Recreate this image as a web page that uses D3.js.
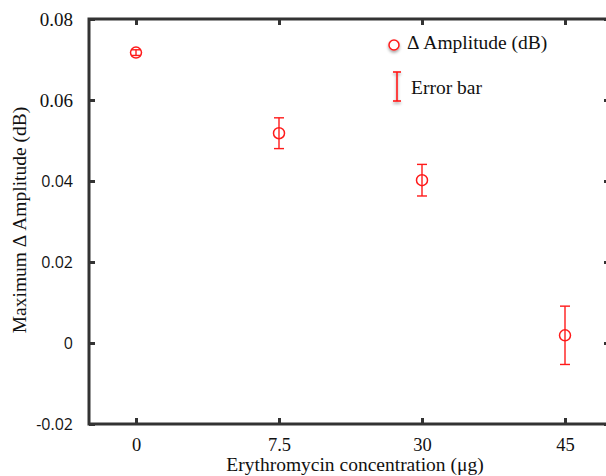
<!DOCTYPE html>
<html lang="en">
<head>
<meta charset="utf-8">
<title>Erythromycin amplitude chart</title>
<script src="https://d3js.org/d3.v7.min.js"></script>
<style>
  body { margin: 0; background: #fff; }
  svg { display: block; }
</style>
</head>
<body>
<div id="chart"></div>
<script type="text/javascript">

// data
var concentrations = ["0", "7.5", "30", "45"];
var amplitudes = [0.0717, 0.0518, 0.0402, 0.0019];
var errors = [0.0007, 0.0038, 0.0039, 0.0072];
var yTicks = [-0.02, 0, 0.02, 0.04, 0.06, 0.08];
var yTickLabels = ["-0.02", "0", "0.02", "0.04", "0.06", "0.08"];

var w = 606;
var h = 476;
var frame = {left: 89, right: 610, top: 19, bottom: 424};
var red = "#ff1a1a";
var serif = "'Liberation Serif', 'Times New Roman', serif";
var sans = "'Open Sans', 'Noto Sans', sans-serif";

var svg = d3.select("#chart")
  .append("svg")
  .attr("width", w)
  .attr("height", h);

var defs = svg.append("defs");
var shadow = defs.append("filter").attr("id", "shadow")
  .attr("x", "-100%").attr("y", "-100%").attr("width", "300%").attr("height", "300%");
shadow.append("feDropShadow")
  .attr("dx", 0).attr("dy", 2).attr("stdDeviation", 1.5)
  .attr("flood-color", "#000").attr("flood-opacity", 0.35);

var xScale = d3.scalePoint()
  .domain(concentrations)
  .range([136, 565]);

var yScale = d3.scaleLinear()
  .domain([-0.02, 0.08])
  .range([frame.bottom, frame.top]);

// frame
svg.append("rect")
  .attr("x", frame.left)
  .attr("y", frame.top)
  .attr("width", frame.right - frame.left)
  .attr("height", frame.bottom - frame.top)
  .attr("fill", "none")
  .attr("stroke", "#333")
  .attr("stroke-width", 3);

// bottom axis
var xAxis = svg.append("g")
  .attr("transform", "translate(0," + frame.bottom + ")")
  .call(d3.axisBottom(xScale).tickSizeInner(-6).tickSizeOuter(0).tickPadding(14));
xAxis.select(".domain").remove();
xAxis.selectAll(".tick line").attr("stroke", "#333").attr("stroke-width", 3);
xAxis.selectAll(".tick text")
  .attr("font-family", serif).attr("font-size", 18.5).attr("fill", "#111");

// top ticks
var xTop = svg.append("g")
  .attr("transform", "translate(0," + frame.top + ")")
  .call(d3.axisTop(xScale).tickSizeInner(-6).tickSizeOuter(0).tickFormat(""));
xTop.select(".domain").remove();
xTop.selectAll(".tick line").attr("stroke", "#333").attr("stroke-width", 3);

// left axis
var yAxis = svg.append("g")
  .attr("transform", "translate(" + frame.left + ",0)")
  .call(d3.axisLeft(yScale).tickValues(yTicks)
    .tickFormat(function(d, i) { return yTickLabels[i]; })
    .tickSizeInner(-6).tickSizeOuter(0).tickPadding(16));
yAxis.select(".domain").remove();
yAxis.selectAll(".tick line").attr("stroke", "#333").attr("stroke-width", 3);
yAxis.selectAll(".tick text")
  .attr("fill", "#111")
  .attr("font-family", function(d) { return d >= 0.06 ? serif : sans; })
  .attr("font-size", function(d) { return d >= 0.06 ? 19 : 16; });

// right ticks
var yRight = svg.append("g")
  .attr("transform", "translate(" + frame.right + ",0)")
  .call(d3.axisRight(yScale).tickValues(yTicks).tickSizeInner(-6).tickSizeOuter(0).tickFormat(""));
yRight.select(".domain").remove();
yRight.selectAll(".tick line").attr("stroke", "#333").attr("stroke-width", 3);

// axis titles
svg.append("text")
  .attr("x", 355)
  .attr("y", 471)
  .attr("text-anchor", "middle")
  .attr("font-family", serif)
  .attr("font-size", 19.5)
  .attr("fill", "#111")
  .text("Erythromycin concentration (\u03bcg)");

svg.append("text")
  .attr("transform", "translate(26,220) rotate(-90)")
  .attr("text-anchor", "middle")
  .attr("font-family", serif)
  .attr("font-size", 19.5)
  .attr("fill", "#111")
  .text("Maximum \u0394 Amplitude (dB)");

// error bars
var points = concentrations.map(function(c, i) {
  return {c: c, v: amplitudes[i], e: errors[i]};
});

var bars = svg.append("g").attr("stroke", red).attr("stroke-width", 1.4).attr("fill", "none");
bars.selectAll("line.stem")
  .data(points).enter().append("line")
  .attr("x1", function(d) { return xScale(d.c); })
  .attr("x2", function(d) { return xScale(d.c); })
  .attr("y1", function(d) { return yScale(d.v + d.e); })
  .attr("y2", function(d) { return yScale(d.v - d.e); });
bars.selectAll("line.capTop")
  .data(points).enter().append("line")
  .attr("x1", function(d) { return xScale(d.c) - 5; })
  .attr("x2", function(d) { return xScale(d.c) + 5; })
  .attr("y1", function(d) { return yScale(d.v + d.e); })
  .attr("y2", function(d) { return yScale(d.v + d.e); });
bars.selectAll("line.capBottom")
  .data(points).enter().append("line")
  .attr("x1", function(d) { return xScale(d.c) - 5; })
  .attr("x2", function(d) { return xScale(d.c) + 5; })
  .attr("y1", function(d) { return yScale(d.v - d.e); })
  .attr("y2", function(d) { return yScale(d.v - d.e); });

// markers
svg.append("g").selectAll("circle")
  .data(points).enter().append("circle")
  .attr("cx", function(d) { return xScale(d.c); })
  .attr("cy", function(d) { return yScale(d.v); })
  .attr("r", 5.5)
  .attr("fill", "none")
  .attr("stroke", red)
  .attr("stroke-width", 1.5);

// legend
var legend = svg.append("g");
legend.append("circle")
  .attr("cx", 394).attr("cy", 45).attr("r", 5)
  .attr("fill", "#fff").attr("stroke", red).attr("stroke-width", 1.5)
  .attr("filter", "url(#shadow)");
legend.append("text")
  .attr("x", 407).attr("y", 49)
  .attr("font-family", serif).attr("font-size", 19.5).attr("fill", "#111")
  .text("\u0394 Amplitude (dB)");

var eb = legend.append("g").attr("stroke", red).attr("stroke-width", 1.6)
  .attr("filter", "url(#shadow)");
eb.append("line").attr("x1", 397).attr("x2", 397).attr("y1", 72).attr("y2", 101);
eb.append("line").attr("x1", 393).attr("x2", 401).attr("y1", 72).attr("y2", 72);
eb.append("line").attr("x1", 393).attr("x2", 401).attr("y1", 101).attr("y2", 101);
legend.append("text")
  .attr("x", 411).attr("y", 94)
  .attr("font-family", serif).attr("font-size", 19.5).attr("fill", "#111")
  .text("Error bar");

</script>
</body>
</html>
